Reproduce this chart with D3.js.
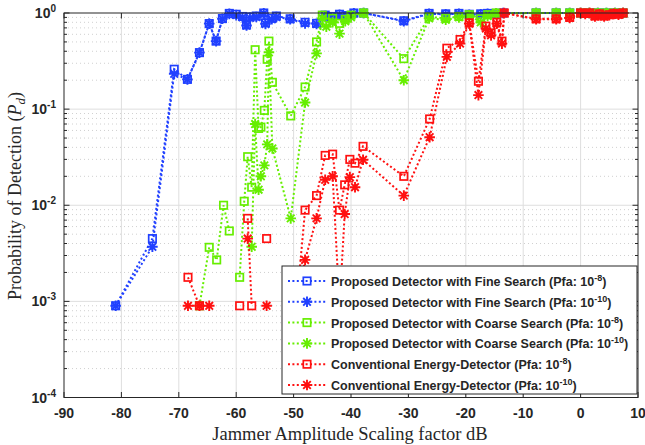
<!DOCTYPE html>
<html>
<head>
<meta charset="utf-8">
<script src="https://cdn.jsdelivr.net/npm/d3@7"></script>
<style>
body { margin: 0; background: #fff; }
text { fill: #262626; }
</style>
</head>
<body>
<svg id="chart" width="645" height="445"></svg>
<script>
// ---- data (0 = no detection, not drawn on log axis) ----
const fineX = [-81, -74.6, -70.8, -68.5, -66.4, -64.7, -63.5, -62.4, -61.2, -60, -58.9, -58.2, -57.6, -56.5, -55.2, -54.9, -53.8, -53, -50.6, -48, -46, -44.5, -43.5, -42, -40.5, -39.5, -37.8, -30.8, -26.4, -23.5, -21.2, -19.4, -17.4, -16.2, -14.7, -13.5, -7.75, -4.25, -1.9, 0, 1.5, 3, 4.5, 6, 7.4];
const fineP8 = [0.0009, 0.0045, 0.26, 0.204, 0.387, 0.776, 0.51, 0.875, 0.99, 0.97, 0.92, 0.75, 0.91, 0.93, 1.0, 0.79, 0.88, 0.93, 0.87, 0.80, 0.78, 0.95, 0.92, 0.97, 0.94, 1.0, 1.0, 0.83, 0.99, 0.98, 0.99, 0.97, 0.98, 0.99, 0.99, 1, 1, 1, 1, 1, 1, 1, 1, 1, 1];
const fineP10 = [0.0009, 0.0037, 0.233, 0.204, 0.387, 0.776, 0.51, 0.87, 0.98, 0.95, 0.90, 0.74, 0.89, 0.91, 0.99, 0.77, 0.86, 0.91, 0.86, 0.78, 0.77, 0.93, 0.90, 0.96, 0.93, 0.99, 1.0, 0.82, 0.98, 0.97, 0.98, 0.96, 0.97, 0.98, 0.99, 1, 1, 1, 1, 1, 1, 1, 1, 1, 1];

const coarseX = [-66.4, -64.7, -63.4, -62.2, -61.2, -60.3, -59.4, -58.6, -58, -57.3, -56.7, -56.1, -55.7, -55.1, -54.6, -54.3, -53.7, -50.5, -48, -46, -45, -44.3, -43.2, -42, -41, -40, -37.8, -30.8, -26.4, -23.5, -21.2, -19.4, -17.4, -16.2, -14.7, -7.75, -4.25, -1.9, 0, 1.5, 3, 4.5, 6, 7.4];
const coarseP8 = [0.0009, 0.00365, 0.0027, 0.010, 0.0054, 0, 0.00178, 0.011, 0.032, 0.0154, 0.415, 0.063, 0.065, 0.097, 0.33, 0.51, 0.19, 0.085, 0.17, 0.50, 0.95, 0.80, 0.88, 0.78, 0.86, 0.95, 1.0, 0.335, 0.91, 0.88, 0.92, 0.96, 0.87, 0.96, 1, 1, 1, 1, 1, 1, 1, 1, 1, 1];
const coarseP10 = [0, 0, 0, 0, 0, 0, 0, 0, 0, 0.0037, 0.07, 0.0145, 0.02, 0.026, 0.043, 0.39, 0.039, 0.0073, 0.117, 0.38, 0.88, 0.72, 0.80, 0.61, 0.82, 0.90, 1.0, 0.20, 0.88, 0.85, 0.90, 0.94, 0.80, 0.93, 0.99, 1, 1, 1, 1, 1, 1, 1, 1, 1];

const energyX = [-68.4, -66.4, -64.7, -60.3, -59.4, -58.7, -58, -57.3, -55.5, -54.7, -50.5, -49.5, -48, -46, -44.5, -43.2, -42, -41.1, -40.2, -39.3, -37.9, -30.8, -26.3, -23.3, -21, -19.4, -17.8, -16.5, -15.6, -14.6, -13.7, -13.3, -7.75, -4.25, -1.9, 0, 0.8, 1.6, 2.5, 3.3, 4.1, 5, 5.8, 6.6, 7.4];
const energyP8 = [0.00178, 0.0009, 0, 0, 0.0009, 0, 0.0073, 0.0009, 0, 0.0045, 0, 0.0009, 0.0089, 0.0126, 0.033, 0.034, 0.0089, 0.0163, 0.030, 0.0274, 0.041, 0.020, 0.079, 0.43, 0.53, 0.79, 0.195, 0.73, 0.62, 0.80, 0.51, 1.0, 0.87, 0.87, 0.90, 1.0, 0.99, 1.0, 0.93, 0.98, 0.93, 0.96, 0.99, 0.97, 1.0];
const energyP10 = [0.0009, 0.0009, 0.0009, 0, 0, 0, 0.0045, 0, 0, 0.0009, 0, 0.0009, 0.0027, 0.0073, 0.0184, 0.020, 0.0009, 0.0081, 0.0196, 0.0154, 0.0297, 0.0126, 0.051, 0.35, 0.48, 0.775, 0.14, 0.69, 0.585, 0.775, 0.48, 1.0, 0.86, 0.86, 0.89, 1.0, 0.98, 1.0, 0.92, 0.97, 0.92, 0.95, 0.98, 0.96, 1.0];

const xTicks = [-90, -80, -70, -60, -50, -40, -30, -20, -10, 0, 10];
const yTicks = [1e-4, 1e-3, 1e-2, 1e-1, 1];
const yExp = ["-4", "-3", "-2", "-1", "0"];

const series = [
    {name: "Proposed Detector with Fine Search (Pfa: 10", exp: "-8", x: fineX, y: fineP8, color: "#2040ff", marker: "square"},
    {name: "Proposed Detector with Fine Search (Pfa: 10", exp: "-10", x: fineX, y: fineP10, color: "#2040ff", marker: "star"},
    {name: "Proposed Detector with Coarse Search (Pfa: 10", exp: "-8", x: coarseX, y: coarseP8, color: "#66ee00", marker: "square"},
    {name: "Proposed Detector with Coarse Search (Pfa: 10", exp: "-10", x: coarseX, y: coarseP10, color: "#66ee00", marker: "star"},
    {name: "Conventional Energy-Detector (Pfa: 10", exp: "-8", x: energyX, y: energyP8, color: "#ff1010", marker: "square"},
    {name: "Conventional Energy-Detector (Pfa: 10", exp: "-10", x: energyX, y: energyP10, color: "#ff1010", marker: "star"}
];

// ---- layout ----
const margin = {left: 64, right: 7, top: 13, bottom: 47.5};
const width = 645 - margin.left - margin.right;
const height = 445 - margin.top - margin.bottom;

const svg = d3.select("#chart");
const g = svg.append("g").attr("transform", "translate(" + margin.left + "," + margin.top + ")");

const xScale = d3.scaleLinear().domain([-90, 10]).range([0, width]);
const yScale = d3.scaleLog().domain([1e-4, 1]).range([height, 0]);

// minor log ticks 2..9 per decade
const minorY = [];
for (let e = -4; e < 0; e++) {
    for (let m = 2; m <= 9; m++) minorY.push(m * Math.pow(10, e));
}

// grid
g.selectAll(".minorGrid").data(minorY).join("line")
    .attr("x1", 0).attr("x2", width)
    .attr("y1", d => yScale(d)).attr("y2", d => yScale(d))
    .attr("stroke", "#c4c4c4").attr("stroke-width", 0.8)
    .attr("stroke-dasharray", "1,3");

g.selectAll(".yGrid").data(yTicks.slice(1, -1)).join("line")
    .attr("x1", 0).attr("x2", width)
    .attr("y1", d => yScale(d)).attr("y2", d => yScale(d))
    .attr("stroke", "#dedede").attr("stroke-width", 1);

g.selectAll(".xGrid").data(xTicks.slice(1, -1)).join("line")
    .attr("x1", d => xScale(d)).attr("x2", d => xScale(d))
    .attr("y1", 0).attr("y2", height)
    .attr("stroke", "#dedede").attr("stroke-width", 1);

// marker drawing
function drawMarker(sel, type, color) {
    if (type === "square") {
        sel.append("rect")
            .attr("x", -3.7).attr("y", -3.7).attr("width", 7.4).attr("height", 7.4)
            .attr("fill", "none").attr("stroke", color).attr("stroke-width", 1.7);
    } else {
        sel.append("path")
            .attr("d", "M-5.3,0H5.3M0,-5.3V5.3M-3.8,-3.8L3.8,3.8M-3.8,3.8L3.8,-3.8")
            .attr("fill", "none").attr("stroke", color).attr("stroke-width", 1.9);
    }
}

// lines and markers
series.forEach(s => {
    const pts = s.x.map((x, i) => ({x: x, y: s.y[i]}));
    const line = d3.line()
        .defined(d => d.y > 0)
        .x(d => xScale(d.x))
        .y(d => yScale(d.y));

    g.append("path")
        .datum(pts)
        .attr("fill", "none")
        .attr("stroke", s.color)
        .attr("stroke-width", 2)
        .attr("stroke-dasharray", "2,2.4")
        .attr("d", line);

    g.selectAll(null).data(pts.filter(d => d.y > 0)).join("g")
        .attr("transform", d => "translate(" + xScale(d.x) + "," + yScale(d.y) + ")")
        .each(function () { drawMarker(d3.select(this), s.marker, s.color); });
});

// box and ticks
g.append("rect").attr("width", width).attr("height", height)
    .attr("fill", "none").attr("stroke", "#262626").attr("stroke-width", 1);

const tickLen = 5.5, minorLen = 3;
xTicks.forEach(t => {
    const x = xScale(t);
    g.append("line").attr("x1", x).attr("x2", x).attr("y1", height).attr("y2", height - tickLen).attr("stroke", "#262626");
    g.append("line").attr("x1", x).attr("x2", x).attr("y1", 0).attr("y2", tickLen).attr("stroke", "#262626");
});
yTicks.forEach(t => {
    const y = yScale(t);
    g.append("line").attr("x1", 0).attr("x2", tickLen).attr("y1", y).attr("y2", y).attr("stroke", "#262626");
    g.append("line").attr("x1", width).attr("x2", width - tickLen).attr("y1", y).attr("y2", y).attr("stroke", "#262626");
});
minorY.forEach(t => {
    const y = yScale(t);
    g.append("line").attr("x1", 0).attr("x2", minorLen).attr("y1", y).attr("y2", y).attr("stroke", "#262626");
    g.append("line").attr("x1", width).attr("x2", width - minorLen).attr("y1", y).attr("y2", y).attr("stroke", "#262626");
});

// tick labels
g.selectAll(".xLabel").data(xTicks).join("text")
    .attr("x", d => xScale(d)).attr("y", height + 20)
    .attr("text-anchor", "middle")
    .style("font-family", "Liberation Sans, Arial, sans-serif")
    .style("font-weight", "bold").style("font-size", "14px")
    .text(d => d);

yTicks.forEach((t, i) => {
    const txt = g.append("text")
        .attr("x", -8).attr("y", yScale(t) + 5)
        .attr("text-anchor", "end")
        .style("font-family", "Liberation Sans, Arial, sans-serif")
        .style("font-weight", "bold").style("font-size", "14px");
    txt.append("tspan").text("10");
    txt.append("tspan").attr("dy", -6).style("font-size", "10px").text(yExp[i]);
});

// axis titles
svg.append("text")
    .attr("x", 350).attr("y", 440)
    .attr("text-anchor", "middle")
    .style("font-family", "Liberation Serif, Times New Roman, serif")
    .style("font-size", "18.5px")
    .text("Jammer Amplitude Scaling factor dB");

const yTitle = svg.append("text")
    .attr("transform", "translate(21,196) rotate(-90)")
    .attr("text-anchor", "middle")
    .style("font-family", "Liberation Serif, Times New Roman, serif")
    .style("font-size", "18px");
yTitle.append("tspan").text("Probability of Detection (");
yTitle.append("tspan").style("font-style", "italic").text("P");
yTitle.append("tspan").attr("dy", 4).style("font-size", "13px").style("font-style", "italic").text("d");
yTitle.append("tspan").attr("dy", -4).text(")");

// legend
const lx = 282, ly = 266, lw = 355, lh = 128, rowH = 20.8;
const legend = svg.append("g");
legend.append("rect").attr("x", lx).attr("y", ly).attr("width", lw).attr("height", lh)
    .attr("fill", "#fff").attr("stroke", "#262626").attr("stroke-width", 1);

series.forEach((s, i) => {
    const cy = ly + 15 + i * rowH;
    legend.append("line").attr("x1", lx + 6).attr("x2", lx + 44).attr("y1", cy).attr("y2", cy)
        .attr("stroke", s.color).attr("stroke-width", 2).attr("stroke-dasharray", "2,2.4");
    const m = legend.append("g").attr("transform", "translate(" + (lx + 25) + "," + cy + ")");
    drawMarker(m, s.marker, s.color);
    const t = legend.append("text").attr("x", lx + 49).attr("y", cy + 5)
        .style("font-family", "Liberation Sans, Arial, sans-serif")
        .style("font-weight", "bold").style("font-size", "12.5px");
    t.append("tspan").text(s.name);
    t.append("tspan").attr("dy", -5).style("font-size", "9px").text(s.exp);
    t.append("tspan").attr("dy", 5).text(")");
});
</script>
</body>
</html>
